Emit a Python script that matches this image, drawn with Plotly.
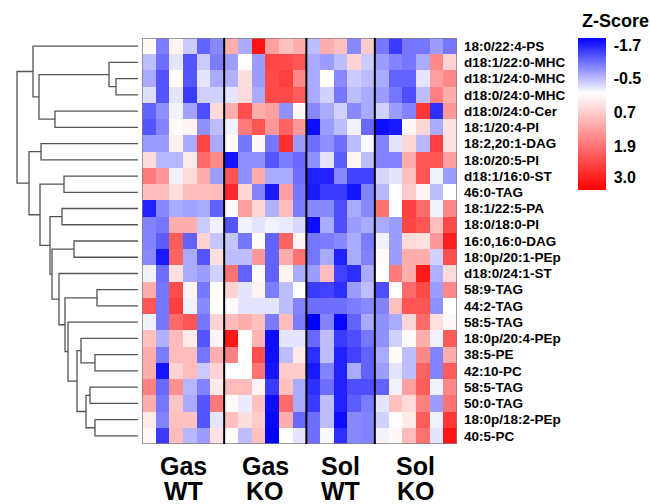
import numpy as np
import plotly.graph_objects as go

lipids = ["18:0/22:4-PS", "d18:1/22:0-MHC", "d18:1/24:0-MHC", "d18:0/24:0-MHC",
          "d18:0/24:0-Cer", "18:1/20:4-PI", "18:2,20:1-DAG", "18:0/20:5-PI",
          "d18:1/16:0-ST", "46:0-TAG", "18:1/22:5-PA", "18:0/18:0-PI",
          "16:0,16:0-DAG", "18:0p/20:1-PEp", "d18:0/24:1-ST", "58:9-TAG",
          "44:2-TAG", "58:5-TAG", "18:0p/20:4-PEp", "38:5-PE", "42:10-PC",
          "58:5-TAG", "50:0-TAG", "18:0p/18:2-PEp", "40:5-PC"]

group_line1 = ["Gas", "Gas", "Sol", "Sol"]
group_line2 = ["WT", "KO", "WT", "KO"]

gas_wt = [
    [0.05, -1.0, 0.15, -0.4, -1.2, -0.9],
    [-0.5, -1.1, -0.2, -1.3, -0.4, -1.0],
    [-0.65, -1.3, 0.0, -1.3, -0.2, -0.65],
    [-0.25, -1.3, -0.2, -1.5, -0.35, -0.35],
    [-1.2, -0.85, -0.1, -0.7, -1.35, 0.5],
    [-1.3, -0.95, 0.05, 0.15, -0.85, -0.5],
    [-0.75, -0.75, 0.2, -0.65, 2.5, -0.65],
    [0.5, -0.55, -0.55, 0.3, 2.0, 1.6],
    [1.8, 1.4, -0.1, 0.5, 1.1, -0.75],
    [0.9, 0.9, 0.45, 0.9, 0.9, 0.9],
    [-1.7, -0.9, -0.65, -0.7, -0.65, -1.2],
    [-0.95, -1.05, 1.1, 1.1, -0.4, -0.1],
    [-0.95, -1.25, 2.2, -1.2, 0.6, -0.45],
    [-0.9, -1.75, 2.1, -0.65, -1.3, 0.45],
    [-0.1, -1.1, 0.4, -0.65, -0.75, -0.35],
    [1.1, -1.05, 2.4, 0.15, -1.05, 0.0],
    [2.3, -1.05, 2.6, -0.1, -0.9, 0.0],
    [-0.1, -1.05, 2.0, 2.3, -1.05, 0.6],
    [0.85, -0.6, 0.9, 0.3, -1.3, 0.15],
    [1.1, -1.0, 0.9, 0.9, -1.05, 1.1],
    [1.1, -1.8, 0.6, 0.9, -0.4, 0.6],
    [1.7, -1.15, 1.5, -0.55, -0.95, 0.3],
    [1.1, -1.05, 0.8, -0.65, -1.3, 1.8],
    [0.3, -0.95, 0.85, 0.85, -1.3, -0.2],
    [0.1, -1.5, 0.9, -0.55, -0.75, 0.4],
]

gas_ko = [
    [1.1, -0.65, 3.2, 1.3, 0.85, 1.1],
    [-0.75, 0.0, -0.75, 2.5, 2.45, 2.3],
    [-0.6, 0.45, -0.75, 2.45, 2.6, 1.6],
    [-0.2, 0.5, -0.65, 2.45, 2.45, 2.2],
    [1.1, 2.4, 1.1, 1.3, -0.85, 0.1],
    [-0.1, 1.8, 2.3, 1.4, 2.1, 1.4],
    [0.05, -1.05, 0.1, -1.05, 2.8, -0.75],
    [-1.8, -0.85, -0.85, -1.3, -1.0, -1.15],
    [2.3, -0.85, 1.1, -0.65, -0.65, -1.1],
    [2.9, 0.55, -0.95, -1.75, 1.3, -1.05],
    [0.05, 1.3, 0.55, -0.6, 0.9, -1.0],
    [-1.3, -0.1, -0.2, -0.1, -0.15, -0.3],
    [-0.45, -1.05, 0.05, -1.2, 2.1, 0.15],
    [-0.5, -0.5, 1.4, -1.2, 1.1, 1.9],
    [1.9, -1.2, 0.05, -1.2, 0.15, -0.65],
    [0.6, -0.2, 0.15, -1.0, -0.5, 0.0],
    [0.05, -0.2, -0.2, -0.2, -0.5, -0.95],
    [0.9, 1.1, 0.85, -1.0, 0.9, -1.0],
    [3.1, 0.0, 1.0, -1.85, -0.2, -0.2],
    [1.7, 0.0, 2.4, -1.85, -0.5, 0.3],
    [0.0, 0.0, 1.9, -1.8, 0.7, 0.7],
    [0.9, 0.9, 0.15, -1.5, 0.85, -0.65],
    [0.05, -0.15, 0.85, -1.85, 2.0, -0.65],
    [0.85, 0.45, 0.7, -1.9, 1.1, -1.15],
    [0.0, -0.5, 0.85, -1.95, 0.0, -0.2],
]

sol_wt = [
    [-0.5, 1.1, 0.85, -0.9, 0.7],
    [-0.65, -0.75, -0.5, 0.6, -0.4],
    [-0.65, 0.0, -0.9, -0.4, -0.5],
    [-0.65, -0.35, -1.05, -0.5, -0.65],
    [-0.9, -0.65, -0.35, -0.9, -0.65],
    [-1.85, -0.75, -0.5, -0.1, -1.15],
    [-1.1, -0.85, -1.1, -0.5, -0.05],
    [-0.85, -0.2, -1.25, 0.1, -0.5],
    [-1.7, -1.7, -0.9, -1.45, -1.45],
    [-1.75, -1.5, -1.5, -1.8, -0.95],
    [-0.9, -0.9, -1.35, -0.65, -0.9],
    [-1.85, -0.65, -1.35, -0.75, -0.65],
    [-1.05, -1.0, -0.9, -0.65, -1.0],
    [-1.05, -0.65, -1.7, -0.65, -0.95],
    [-0.75, 0.9, -1.45, -1.6, -0.65],
    [-1.5, -1.45, -1.6, -0.75, -0.5],
    [-1.1, -1.1, -1.1, -1.0, -0.9],
    [-1.95, -0.95, -1.9, -1.2, -0.65],
    [-1.15, -0.5, -1.5, -1.35, -1.05],
    [-1.6, -0.5, -1.7, -1.45, -1.2],
    [-1.75, -0.95, -1.7, -0.65, -1.2],
    [-1.6, -1.1, -1.7, -1.35, -1.35],
    [-1.5, -0.5, -1.7, -1.25, -1.0],
    [-1.1, -0.5, -1.85, -0.9, -0.95],
    [-1.1, -0.05, -1.6, -0.9, -0.95],
]

sol_ko = [
    [-1.05, -1.5, -1.05, -1.05, -0.75, -1.05],
    [-0.75, -0.95, -1.05, -0.65, 1.6, 0.6],
    [-0.65, -1.2, -1.2, -0.2, 1.3, 1.6],
    [-0.75, -1.05, -1.35, -0.5, 1.7, 1.1],
    [-0.35, -0.75, -0.95, 2.7, -1.6, 1.4],
    [-1.85, -1.75, 0.1, 0.55, -0.65, 0.4],
    [-0.95, -0.2, 0.55, -0.55, 2.6, 0.4],
    [-0.95, -0.95, 1.1, 2.3, 2.3, 1.3],
    [-0.3, -0.2, 0.85, 2.3, -0.1, -0.75],
    [-0.55, 0.0, 0.7, 0.15, -0.5, 0.0],
    [1.9, 0.0, 2.6, 2.0, -0.1, 1.6],
    [-0.65, -0.75, 2.5, 2.3, 0.85, 2.45],
    [-0.1, -0.75, 0.5, 0.4, 1.4, 3.0],
    [0.05, -0.75, 1.1, 1.1, -0.35, 2.4],
    [0.0, 1.8, 1.1, 3.1, -0.6, 0.5],
    [-1.35, 0.0, 2.0, 2.45, -0.75, 1.6],
    [-0.95, 0.85, 2.3, 2.3, -0.85, 0.0],
    [-0.85, -0.65, 0.55, 2.0, 0.4, 0.1],
    [-0.85, -0.35, 0.05, 1.1, -0.1, 2.2],
    [-0.65, 0.05, -0.5, 1.6, -0.95, 1.1],
    [-0.75, -0.2, -0.5, 2.1, -0.95, 2.2],
    [-1.2, -0.1, 1.3, 2.2, -0.1, 1.6],
    [-0.2, 0.85, 0.5, 1.7, -0.75, 1.9],
    [-0.35, 0.0, 0.3, 2.2, -0.1, 2.7],
    [-0.1, 0.1, 0.9, 1.9, -0.2, 3.2],
]

# dendrogram merges: (child_a, child_b, height); leaves 0..24, merge k gets id 25+k
merges = [
    (2, 3, 22), (1, 25, 29), (4, 5, 83), (26, 27, 99), (0, 28, 105),
    (6, 7, 97), (8, 9, 74), (10, 11, 76), (12, 13, 64), (15, 16, 41),
    (19, 20, 43), (18, 35, 57), (21, 22, 48), (23, 24, 43), (37, 38, 52),
    (36, 39, 61), (17, 40, 70), (34, 41, 73), (14, 42, 79), (33, 43, 86),
    (32, 44, 88), (31, 45, 98), (30, 46, 109), (29, 47, 121),
]

colorbar_ticks = [-1.7, -0.5, 0.7, 1.9, 3.0]

# ---------------------------------------------------------------
W, H = 650, 504
FONT = "Liberation Sans, Arial, sans-serif"

z = np.hstack([np.array(gas_wt), np.array(gas_ko), np.array(sol_wt), np.array(sol_ko)])
n_rows, n_cols = z.shape
sizes = [len(gas_wt[0]), len(gas_ko[0]), len(sol_wt[0]), len(sol_ko[0])]

ZMIN, ZMAX = -1.95, 3.45
# blue at top of colorbar -> plot negated values
zneg = -z
cs = [[0.0, "#ff0000"], [ZMAX / (ZMAX - ZMIN), "#ffffff"], [1.0, "#0000ff"]]

heat = go.Heatmap(
    z=zneg, x=list(range(n_cols)), y=list(range(n_rows)),
    xaxis="x2", yaxis="y", colorscale=cs, zmin=-ZMAX, zmax=-ZMIN,
    customdata=z, hovertemplate="%{customdata:.2f}<extra></extra>",
    colorbar=dict(
        thickness=28, thicknessmode="pixels", len=152, lenmode="pixels",
        x=578 / W, xanchor="left", y=1 - 114 / H, yanchor="middle",
        xpad=0, ypad=0, outlinewidth=0,
        tickvals=[-t for t in colorbar_ticks],
        ticktext=[f"{t:.1f}" for t in colorbar_ticks],
        ticks="outside", ticklen=5, tickcolor="rgba(0,0,0,0)",
        tickfont=dict(family=FONT, size=16, color="black", weight="bold"),
    ),
)

# dendrogram coordinates
pos = {i: (float(i), 0.0) for i in range(n_rows)}
xs, ys = [], []
for k, (a, b, h) in enumerate(merges):
    ya, ha = pos[a]
    yb, hb = pos[b]
    xs += [ha, h, h, hb, None]
    ys += [ya, ya, yb, yb, None]
    pos[n_rows + k] = ((ya + yb) / 2, h)

dend = go.Scatter(x=xs, y=ys, mode="lines", xaxis="x", yaxis="y",
                  line=dict(color="#555555", width=1.3), hoverinfo="skip",
                  showlegend=False)

fig = go.Figure([dend, heat])

shapes = [dict(type="rect", xref="x2", yref="y", x0=-0.5, x1=n_cols - 0.5,
               y0=-0.5, y1=n_rows - 0.5, line=dict(color="#7f7f7f", width=1.5))]
edge = -0.5
bounds = []
for s in sizes[:-1]:
    edge += s
    bounds.append(edge)
for bx in bounds:
    shapes.append(dict(type="line", xref="x2", yref="y", x0=bx, x1=bx,
                       y0=-0.5, y1=n_rows - 0.5, line=dict(color="black", width=2)))

annotations = []
start = 0
for g, s in enumerate(sizes):
    cx = start + (s - 1) / 2
    start += s
    annotations.append(dict(x=cx, xref="x2", y=1 - 465.5 / H, yref="paper",
                            text=group_line1[g], showarrow=False, yanchor="middle",
                            height=24, borderpad=0,
                            font=dict(family=FONT, size=25, color="black", weight="bold")))
    annotations.append(dict(x=cx, xref="x2", y=1 - 490.5 / H, yref="paper",
                            text=group_line2[g], showarrow=False, yanchor="middle",
                            height=24, borderpad=0,
                            font=dict(family=FONT, size=25, color="black", weight="bold")))
annotations.append(dict(x=580 / W, xref="paper", xanchor="left", y=1 - 21 / H,
                        yref="paper", yanchor="middle", text="Z-Score", showarrow=False,
                        font=dict(family=FONT, size=18, color="black", weight="bold")))

fig.update_layout(
    width=W, height=H, margin=dict(l=0, r=0, t=0, b=0),
    paper_bgcolor="white", plot_bgcolor="white", showlegend=False,
    xaxis=dict(domain=[0, 139 / W], range=[138, -1], visible=False, fixedrange=True),
    xaxis2=dict(domain=[142 / W, 457 / W], range=[-0.5, n_cols - 0.5], visible=False,
                anchor="y"),
    yaxis=dict(domain=[1 - 444 / H, 1 - 38 / H], range=[n_rows - 0.5, -0.5],
               anchor="x2", side="right", tickvals=list(range(n_rows)), ticktext=lipids,
               showgrid=False, zeroline=False, showline=False, ticks="",
               ticklabelstandoff=6,
               tickfont=dict(family=FONT, size=13.5, color="black", weight="bold")),
    shapes=shapes, annotations=annotations,
)

fig.write_html("out.html", config={"displayModeBar": False},
               post_script="document.body.style.margin='0';document.body.style.overflow='hidden';")
